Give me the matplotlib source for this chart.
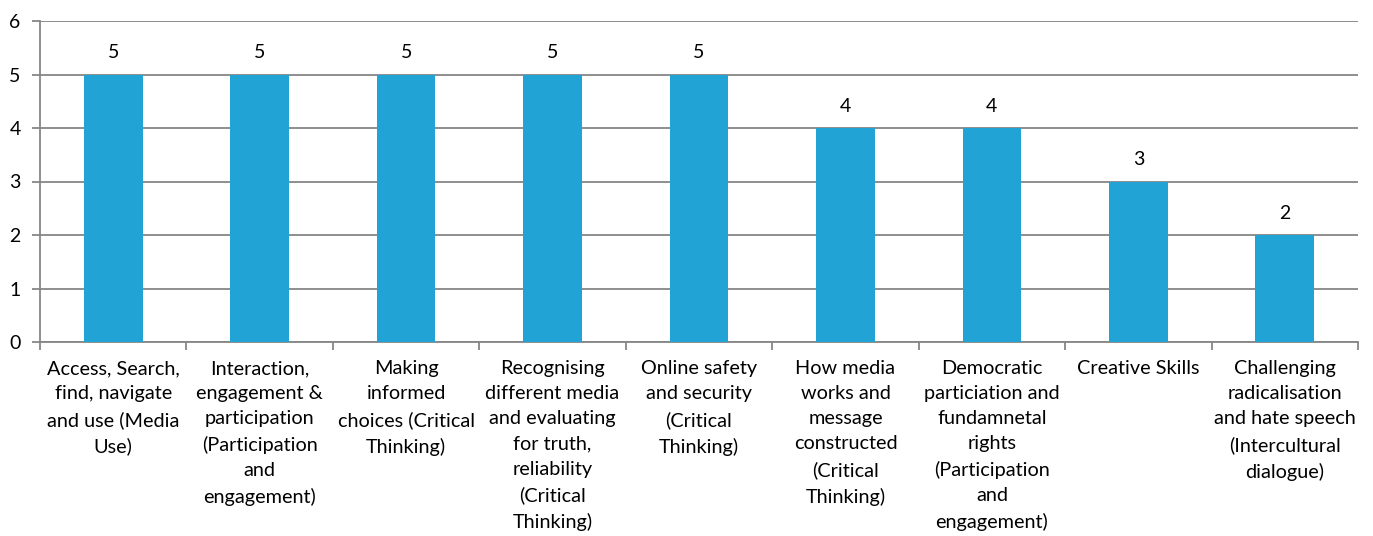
import matplotlib
matplotlib.use("Agg")
import matplotlib.pyplot as plt
import numpy as np

categories = [
    "Access, Search,\nfind, navigate\nand use (Media\nUse)",
    "Interaction,\nengagement &\nparticipation\n(Participation\nand\nengagement)",
    "Making\ninformed\nchoices (Critical\nThinking)",
    "Recognising\ndifferent media\nand evaluating\nfor truth,\nreliability\n(Critical\nThinking)",
    "Online safety\nand security\n(Critical\nThinking)",
    "How media\nworks and\nmessage\nconstructed\n(Critical\nThinking)",
    "Democratic\nparticiation and\nfundamnetal\nrights\n(Participation\nand\nengagement)",
    "Creative Skills",
    "Challenging\nradicalisation\nand hate speech\n(Intercultural\ndialogue)",
]
values = [5, 5, 5, 5, 5, 4, 4, 3, 2]
yticks = [0, 1, 2, 3, 4, 5, 6]

plt.rcParams['font.family'] = ['Lato', 'DejaVu Sans']
fig = plt.figure(figsize=(13.73, 5.36), dpi=100)
ax = fig.add_axes([40/1373, (536-342)/536, (1358-40)/1373, (342-21)/536])

x = np.arange(len(categories))
bar_color = "#21A3D6"
grid_color = "#868686"
ax.bar(x, values, width=0.4, color=bar_color, zorder=3)
for xi, v in zip(x, values):
    ax.text(xi, v + 0.25, str(v), ha="center", va="bottom", fontsize=14, color="#000000")

ax.set_xlim(-0.5, len(categories) - 0.5)
ax.set_ylim(0, 6)
ax.set_yticks(yticks)
ax.set_yticklabels([str(t) for t in yticks], fontsize=14)
ax.yaxis.grid(True, color=grid_color, linewidth=1.3, zorder=0)
ax.set_axisbelow(True)

ax.set_xticks(x)
ax.set_xticklabels(categories, fontsize=14.3, linespacing=1.58, va="top")
ax.tick_params(axis="x", which="major", length=0, pad=13)
ax.set_xticks(np.arange(-0.5, len(categories)), minor=True)
ax.tick_params(axis="x", which="minor", length=6, width=1.3, color=grid_color)
ax.tick_params(axis="y", length=6, width=1.3, color=grid_color, pad=8)

for s in ["top", "right"]:
    ax.spines[s].set_visible(False)
for s in ["left", "bottom"]:
    ax.spines[s].set_color(grid_color)
    ax.spines[s].set_linewidth(1.3)

fig.savefig("out.png", dpi=100)
